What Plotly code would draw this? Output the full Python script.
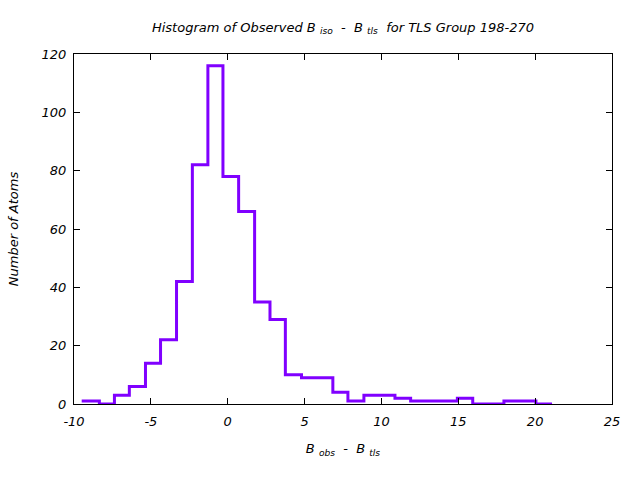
import plotly.graph_objects as go

bin_edges = [-9.5, -8.35, -7.37, -6.40, -5.35, -4.37, -3.33, -2.30, -1.29, -0.31,
             0.71, 1.75, 2.75, 3.75, 4.80, 5.80, 6.84, 7.82, 8.86, 9.87,
             10.88, 11.90, 12.90, 13.92, 14.94, 15.94, 16.96, 17.97, 19.00, 20.05, 21.10]
counts = [1, 0, 3, 6, 14, 22, 42, 82, 116, 78,
          66, 35, 29, 10, 9, 9, 4, 1, 3, 3,
          2, 1, 1, 1, 2, 0, 0, 1, 1, 0]

x_ticks = [-10, -5, 0, 5, 10, 15, 20, 25]
y_ticks = [0, 20, 40, 60, 80, 100, 120]

xs = bin_edges
ys = counts + [counts[-1]]

FONT = dict(family="DejaVu Sans", size=13, color="black", style="italic")

fig = go.Figure()
fig.add_trace(go.Scatter(x=xs, y=ys, mode="lines", line=dict(shape="hv", color="#8000ff", width=3),
                         showlegend=False, hoverinfo="skip"))

axis_common = dict(showline=True, linecolor="black", linewidth=1, mirror="ticks",
                   ticks="inside", ticklen=6, tickcolor="black", showgrid=False,
                   zeroline=False, tickfont=FONT)

fig.update_layout(
    width=640, height=480,
    margin=dict(l=74, r=28, t=54, b=76),
    paper_bgcolor="white", plot_bgcolor="white",
    font=FONT,
    title=dict(text="Histogram of Observed B <sub>iso</sub>  -  B <sub>tls</sub>  for TLS Group 198-270",
               x=(74 + 612) / 2 / 640, xanchor="center", y=1 - 27 / 480, yanchor="middle", font=FONT),
    xaxis=dict(range=[-10, 25], tickvals=x_ticks, ticktext=[str(v) for v in x_ticks],
               ticklabelstandoff=5,
               title=dict(text="B <sub>obs</sub>  -  B <sub>tls</sub>", font=FONT, standoff=16), **axis_common),
    yaxis=dict(range=[0, 120], tickvals=y_ticks, ticktext=[str(v) for v in y_ticks],
               ticklabelstandoff=4,
               title=dict(text="Number of Atoms", font=FONT, standoff=20), **axis_common),
)

fig.write_html("out.html")
